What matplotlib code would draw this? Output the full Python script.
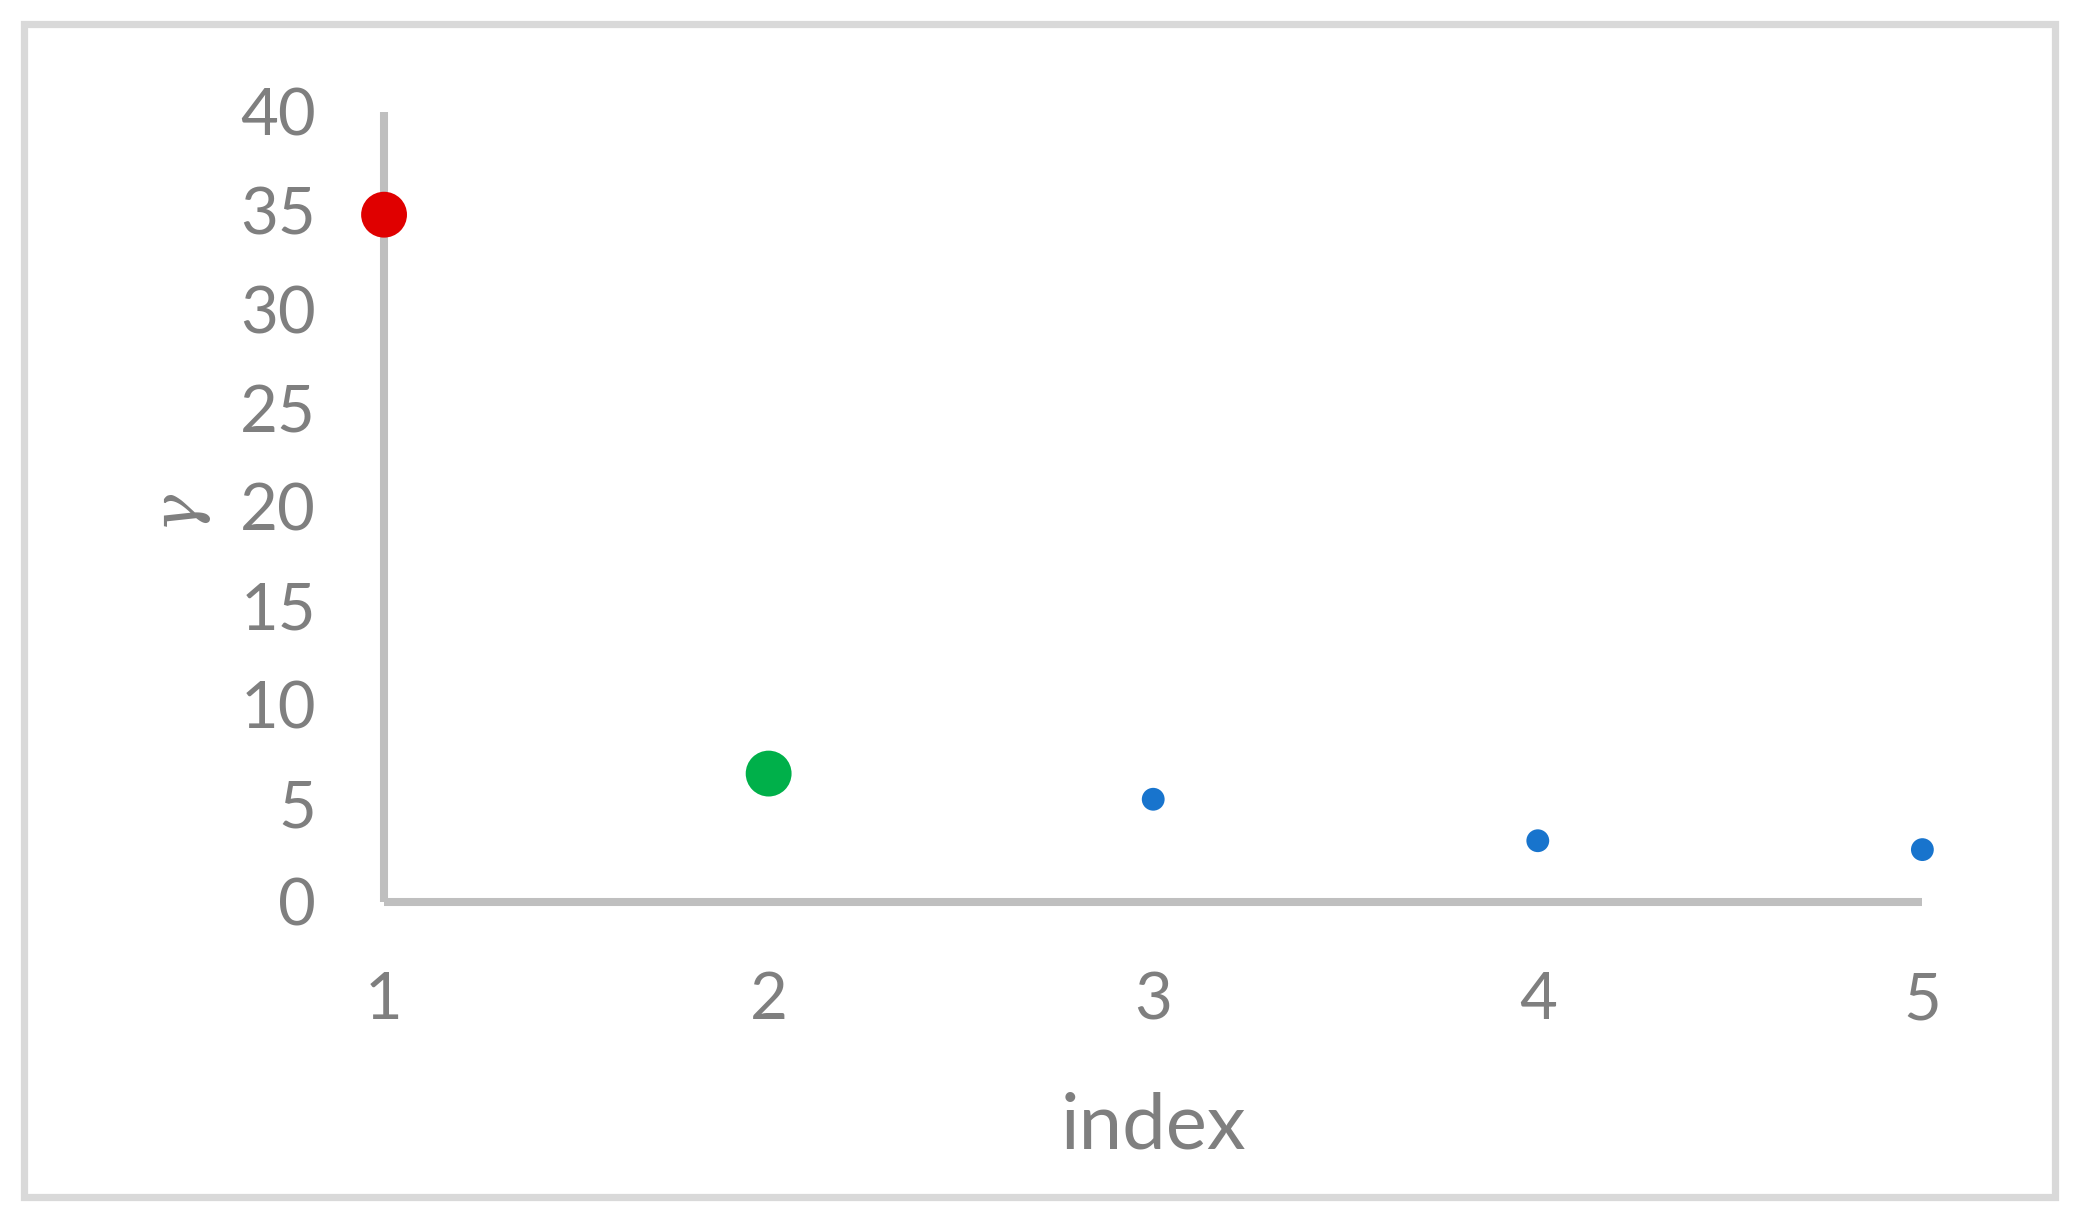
import matplotlib
matplotlib.use("Agg")
import matplotlib.pyplot as plt
from matplotlib.patches import Rectangle

plt.rcParams['font.family'] = ['Lato', 'DejaVu Sans']

# data
index = [1, 2, 3, 4, 5]
gamma = [34.8, 6.5, 5.2, 3.1, 2.65]
point_colors = ['#E00000', '#00B04A', '#1874CD', '#1874CD', '#1874CD']
point_sizes = [1090, 1090, 270, 270, 270]
yticks = [0, 5, 10, 15, 20, 25, 30, 35, 40]

txt_color = '#7F7F7F'
axis_color = '#BFBFBF'

fig = plt.figure(figsize=(20.76, 12.2), dpi=100)
ax = fig.add_axes([0.185, 0.2607, 0.741, 0.6475])

ax.scatter(index, gamma, s=point_sizes, c=point_colors, edgecolors='none',
           zorder=3, clip_on=False)

ax.set_xlim(1, 5)
ax.set_ylim(0, 40)
ax.set_xticks(index)
ax.set_yticks(yticks)
ax.tick_params(length=0, labelsize=47, labelcolor=txt_color)
ax.tick_params(axis='y', pad=49)
ax.tick_params(axis='x', pad=50)

for side in ['top', 'right']:
    ax.spines[side].set_visible(False)
for side in ['left', 'bottom']:
    ax.spines[side].set_color(axis_color)
    ax.spines[side].set_linewidth(5.8)
    ax.spines[side].set_capstyle('butt')

ax.set_xlabel('index', fontsize=56, color=txt_color, va='center')
ax.xaxis.set_label_coords(0.5, -0.285)
ax.set_ylabel('γ', fontsize=46, color=txt_color, va='center',
              family=['DejaVu Serif'], style='italic')
ax.yaxis.set_label_coords(-0.136, 0.5)

# outer chart border
fig.patches.append(Rectangle((23.5 / 2076, 23.5 / 1220), 2031 / 2076, 1173 / 1220,
                             transform=fig.transFigure, fill=False,
                             edgecolor='#D9D9D9', linewidth=5.2))

fig.savefig('out.png', dpi=100, facecolor='white')
